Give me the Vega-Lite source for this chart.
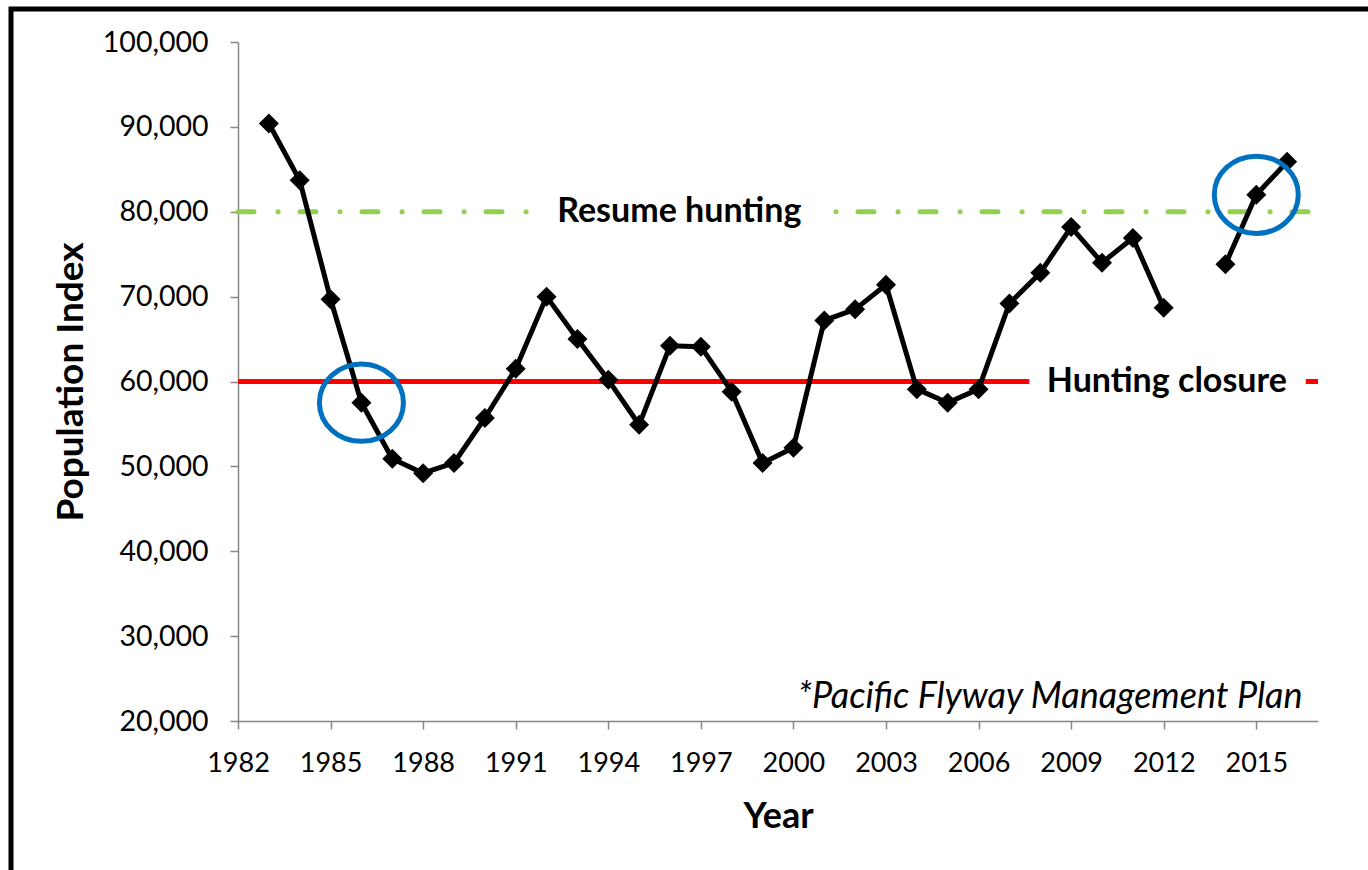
{
  "$schema": "https://vega.github.io/schema/vega-lite/v6.json",
  "width": 1367,
  "height": 870,
  "padding": {"left": 11, "top": 9, "right": -10, "bottom": -9},
  "autosize": {"type": "none"},
  "background": "white",
  "view": {"stroke": "black", "strokeWidth": 5, "fill": "white"},
  "datasets": {
    "population": [
      {"year": 1983, "value": 90400, "segment": 1, "highlight": false},
      {"year": 1984, "value": 83700, "segment": 1, "highlight": false},
      {"year": 1985, "value": 69700, "segment": 1, "highlight": false},
      {"year": 1986, "value": 57500, "segment": 1, "highlight": true},
      {"year": 1987, "value": 50900, "segment": 1, "highlight": false},
      {"year": 1988, "value": 49200, "segment": 1, "highlight": false},
      {"year": 1989, "value": 50400, "segment": 1, "highlight": false},
      {"year": 1990, "value": 55700, "segment": 1, "highlight": false},
      {"year": 1991, "value": 61500, "segment": 1, "highlight": false},
      {"year": 1992, "value": 70000, "segment": 1, "highlight": false},
      {"year": 1993, "value": 65000, "segment": 1, "highlight": false},
      {"year": 1994, "value": 60200, "segment": 1, "highlight": false},
      {"year": 1995, "value": 54900, "segment": 1, "highlight": false},
      {"year": 1996, "value": 64200, "segment": 1, "highlight": false},
      {"year": 1997, "value": 64100, "segment": 1, "highlight": false},
      {"year": 1998, "value": 58800, "segment": 1, "highlight": false},
      {"year": 1999, "value": 50400, "segment": 1, "highlight": false},
      {"year": 2000, "value": 52200, "segment": 1, "highlight": false},
      {"year": 2001, "value": 67200, "segment": 1, "highlight": false},
      {"year": 2002, "value": 68500, "segment": 1, "highlight": false},
      {"year": 2003, "value": 71400, "segment": 1, "highlight": false},
      {"year": 2004, "value": 59100, "segment": 1, "highlight": false},
      {"year": 2005, "value": 57500, "segment": 1, "highlight": false},
      {"year": 2006, "value": 59100, "segment": 1, "highlight": false},
      {"year": 2007, "value": 69200, "segment": 1, "highlight": false},
      {"year": 2008, "value": 72800, "segment": 1, "highlight": false},
      {"year": 2009, "value": 78200, "segment": 1, "highlight": false},
      {"year": 2010, "value": 74000, "segment": 1, "highlight": false},
      {"year": 2011, "value": 76900, "segment": 1, "highlight": false},
      {"year": 2012, "value": 68700, "segment": 1, "highlight": false},
      {"year": 2014, "value": 73800, "segment": 2, "highlight": false},
      {"year": 2015, "value": 82000, "segment": 2, "highlight": true},
      {"year": 2016, "value": 85900, "segment": 2, "highlight": false}
    ],
    "thresholds": [
      {"label": "Hunting closure", "value": 60000, "start": 1982, "end": 2017, "labelYear": 2012.1},
      {"label": "Resume hunting", "value": 80000, "start": 1982, "end": 2017, "labelYear": 1996.3}
    ],
    "notes": [
      {"note": "*Pacific Flyway Management Plan", "year": 2016.5, "value": 21500}
    ]
  },
  "layer": [
    {
      "data": {"name": "thresholds"},
      "transform": [{"filter": "datum.label === 'Hunting closure'"}],
      "mark": {"type": "rule", "color": "#FF0000", "strokeWidth": 5},
      "encoding": {
        "x": {
          "field": "start", "type": "quantitative",
          "scale": {"domain": [1982, 2017], "range": [227, 1307], "nice": false, "zero": false},
          "axis": {
            "title": "Year",
            "values": [1982, 1985, 1988, 1991, 1994, 1997, 2000, 2003, 2006, 2009, 2012, 2015],
            "format": "d",
            "offset": -158,
            "grid": false,
            "domainColor": "#868686", "domainWidth": 1.5,
            "tickColor": "#868686", "tickWidth": 1.5, "tickSize": 8,
            "labelFont": "Lato", "labelFontSize": 27, "labelColor": "black", "labelPadding": 21,
            "labelFlush": false, "labelOverlap": false,
            "titleFont": "Lato", "titleFontSize": 36, "titleFontWeight": "bold", "titleColor": "black", "titlePadding": 23
          }
        },
        "x2": {"field": "end"},
        "y": {
          "field": "value", "type": "quantitative",
          "scale": {"domain": [20000, 100000], "range": [712, 33], "nice": false, "zero": false},
          "axis": {
            "title": "Population Index",
            "values": [20000, 30000, 40000, 50000, 60000, 70000, 80000, 90000, 100000],
            "format": ",d",
            "offset": -227,
            "grid": false,
            "domainColor": "#868686", "domainWidth": 1.5,
            "tickColor": "#868686", "tickWidth": 1.5, "tickSize": 8,
            "labelFont": "Lato", "labelFontSize": 28.5, "labelColor": "black", "labelPadding": 22,
            "labelFlush": false, "labelOverlap": false,
            "titleFont": "Lato", "titleFontSize": 37, "titleFontWeight": "bold", "titleColor": "black", "titlePadding": 12
          }
        }
      }
    },
    {
      "data": {"name": "thresholds"},
      "transform": [{"filter": "datum.label === 'Resume hunting'"}],
      "mark": {"type": "rule", "color": "#92D050", "strokeWidth": 5, "strokeCap": "round", "strokeDash": [16, 24, 0.1, 21.9]},
      "encoding": {
        "x": {"field": "start", "type": "quantitative"},
        "x2": {"field": "end"},
        "y": {"field": "value", "type": "quantitative"}
      }
    },
    {
      "data": {"name": "thresholds"},
      "transform": [{"filter": "datum.label === 'Hunting closure'"}],
      "mark": {"type": "text", "font": "Lato", "fontSize": 34, "fontWeight": "bold", "align": "center", "baseline": "alphabetic", "dy": 10, "fill": "white", "stroke": "white", "strokeWidth": 40, "strokeJoin": "round"},
      "encoding": {
        "x": {"field": "labelYear", "type": "quantitative"},
        "y": {"field": "value", "type": "quantitative"},
        "text": {"field": "label"}
      }
    },
    {
      "data": {"name": "thresholds"},
      "transform": [{"filter": "datum.label === 'Resume hunting'"}],
      "mark": {"type": "text", "font": "Lato", "fontSize": 34, "fontWeight": "bold", "align": "center", "baseline": "alphabetic", "dy": 10, "fill": "white", "stroke": "white", "strokeWidth": 30, "strokeJoin": "round"},
      "encoding": {
        "x": {"field": "labelYear", "type": "quantitative"},
        "y": {"field": "value", "type": "quantitative"},
        "text": {"field": "label"}
      }
    },
    {
      "data": {"name": "thresholds"},
      "mark": {"type": "text", "font": "Lato", "fontSize": 34, "fontWeight": "bold", "align": "center", "baseline": "alphabetic", "dy": 10, "color": "black"},
      "encoding": {
        "x": {"field": "labelYear", "type": "quantitative"},
        "y": {"field": "value", "type": "quantitative"},
        "text": {"field": "label"}
      }
    },
    {
      "data": {"name": "population"},
      "mark": {"type": "line", "color": "black", "strokeWidth": 5, "strokeJoin": "round"},
      "encoding": {
        "x": {"field": "year", "type": "quantitative"},
        "y": {"field": "value", "type": "quantitative"},
        "detail": {"field": "segment"}
      }
    },
    {
      "data": {"name": "population"},
      "mark": {"type": "point", "shape": "diamond", "filled": true, "color": "black", "size": 400, "opacity": 1},
      "encoding": {
        "x": {"field": "year", "type": "quantitative"},
        "y": {"field": "value", "type": "quantitative"}
      }
    },
    {
      "data": {"name": "population"},
      "transform": [{"filter": "datum.highlight"}],
      "mark": {"type": "point", "shape": "M -1 0 A 1 0.92 0 1 0 1 0 A 1 0.92 0 1 0 -1 0 Z", "filled": false, "stroke": "#0070C0", "strokeWidth": 5, "size": 7056, "opacity": 1},
      "encoding": {
        "x": {"field": "year", "type": "quantitative"},
        "y": {"field": "value", "type": "quantitative"}
      }
    },
    {
      "data": {"name": "notes"},
      "mark": {"type": "text", "font": "Lato", "fontSize": 36, "fontStyle": "italic", "align": "right", "baseline": "alphabetic", "color": "black"},
      "encoding": {
        "x": {"field": "year", "type": "quantitative"},
        "y": {"field": "value", "type": "quantitative"},
        "text": {"field": "note"}
      }
    }
  ]
}
